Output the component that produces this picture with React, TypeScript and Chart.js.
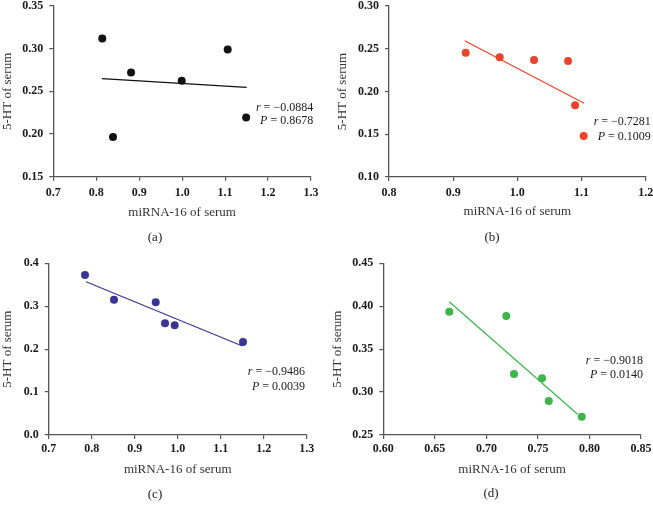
import React, { useEffect, useRef } from "react";
import { Chart, registerables } from "chart.js";
Chart.register(...registerables);

// ---------- data ----------
const xA = [0.814, 0.839, 0.881, 0.999, 1.106, 1.149];
const yA = [0.312, 0.1965, 0.272, 0.2625, 0.299, 0.2195];
const fitXA = [0.813, 1.15];
const fitYA = [0.2648, 0.2547];

const xB = [0.9195, 0.9725, 1.026, 1.079, 1.09, 1.1034];
const yB = [0.2454, 0.24, 0.2368, 0.2357, 0.1839, 0.148];
const fitXB = [0.918, 1.104];
const fitYB = [0.2594, 0.1862];

const xC = [0.7844, 0.8519, 0.9488, 0.9705, 0.993, 1.1519];
const yC = [0.3727, 0.3152, 0.3091, 0.2602, 0.2556, 0.2167];
const fitXC = [0.7868, 1.1503];
const fitYC = [0.3571, 0.2073];

const xD = [0.664, 0.7193, 0.7268, 0.754, 0.7605, 0.7925];
const yD = [0.3936, 0.3886, 0.321, 0.316, 0.2896, 0.2713];
const fitXD = [0.664, 0.7885];
const fitYD = [0.4053, 0.2741];

const statsA = ["r = \u22120.0884", "P = 0.8678"];
const statsB = ["r = \u22120.7281", "P = 0.1009"];
const statsC = ["r = \u22120.9486", "P = 0.0039"];
const statsD = ["r = \u22120.9018", "P = 0.0140"];

const captions = ["(a)", "(b)", "(c)", "(d)"];
const xTitle = "miRNA-16 of serum";
const yTitle = "5-HT of serum";

const FONT = "'Liberation Serif', 'Times New Roman', serif";

type PanelDef = {
  xs: number[]; ys: number[]; fx: number[]; fy: number[]; stats: string[];
  color: string; caption: string;
  xMin: number; xMax: number; xStep: number; xDec: number;
  yMin: number; yMax: number; yStep: number; yDec: number;
  annX: number; annY: number[];
  cl: number; ct: number; cw: number; ch: number;
  L: number; R: number; T: number; B: number;
  tickY: number; titleY: number; capX: number; capY: number; yTitleX: number;
};

const panels: PanelDef[] = [
  {
    xs: xA, ys: yA, fx: fitXA, fy: fitYA, stats: statsA, color: "#111111", caption: captions[0],
    xMin: 0.7, xMax: 1.3, xStep: 0.1, xDec: 1, yMin: 0.15, yMax: 0.35, yStep: 0.05, yDec: 2,
    annX: 1.305, annY: [0.2305, 0.2153],
    cl: 0, ct: 0, cw: 326, ch: 255, L: 53.3, R: 311, T: 6, B: 176.7,
    tickY: 193, titleY: 213, capX: 155, capY: 238, yTitleX: 7.8,
  },
  {
    xs: xB, ys: yB, fx: fitXB, fy: fitYB, stats: statsB, color: "#e8442b", caption: captions[1],
    xMin: 0.8, xMax: 1.2, xStep: 0.1, xDec: 1, yMin: 0.1, yMax: 0.3, yStep: 0.05, yDec: 2,
    annX: 1.208, annY: [0.1643, 0.1468],
    cl: 326, ct: 0, cw: 327, ch: 255, L: 389, R: 645.7, T: 6, B: 177,
    tickY: 193, titleY: 212, capX: 492, capY: 238, yTitleX: 343,
  },
  {
    xs: xC, ys: yC, fx: fitXC, fy: fitYC, stats: statsC, color: "#3a3594", caption: captions[2],
    xMin: 0.7, xMax: 1.3, xStep: 0.1, xDec: 1, yMin: 0, yMax: 0.4, yStep: 0.1, yDec: 1,
    annX: 1.296, annY: [0.1468, 0.1119],
    cl: 0, ct: 255, cw: 326, ch: 259, L: 48.7, R: 306.7, T: 263.3, B: 435,
    tickY: 449, titleY: 470, capX: 155, capY: 495, yTitleX: 8,
  },
  {
    xs: xD, ys: yD, fx: fitXD, fy: fitYD, stats: statsD, color: "#3db54a", caption: captions[3],
    xMin: 0.6, xMax: 0.85, xStep: 0.05, xDec: 2, yMin: 0.25, yMax: 0.45, yStep: 0.05, yDec: 2,
    annX: 0.852, annY: [0.3362, 0.3199],
    cl: 326, ct: 255, cw: 327, ch: 259, L: 383.3, R: 641, T: 263.3, B: 435,
    tickY: 449, titleY: 470, capX: 491, capY: 494, yTitleX: 338,
  },
];

const AXIS = "#555555";
const TICK_LEN = 4;
const TICK_FONT = 12;
const TITLE_FONT = 13;

function Panel({ p }: { p: PanelDef }) {
  const ref = useRef<HTMLCanvasElement>(null);
  useEffect(() => {
    const titleHalf = (TITLE_FONT * 1.2) / 2;
    const padLeft = Math.max(0, p.yTitleX - titleHalf - p.cl);
    const yAxisWidth = p.L - p.cl - padLeft;
    const padRight = p.cl + p.cw - p.R;
    const padTop = p.T - p.ct;
    const xAxisBottom = p.titleY + titleHalf;
    const xAxisHeight = xAxisBottom - p.B;
    const padBottom = p.ct + p.ch - xAxisBottom;
    const xTickPad = p.tickY - p.B - TICK_LEN - (TICK_FONT * 1.2) / 2;

    const textPlugin = {
      id: "texts",
      afterDraw(chart: any) {
        const ctx = chart.ctx;
        const xs = chart.scales.x;
        const ys = chart.scales.y;
        ctx.save();
        ctx.fillStyle = "#1a1a1a";
        ctx.textBaseline = "middle";
        p.stats.forEach((s: string, i: number) => {
          const head = s.charAt(0);
          const rest = s.slice(1);
          ctx.font = `italic 12px ${FONT}`;
          const wh = ctx.measureText(head).width;
          ctx.font = `12px ${FONT}`;
          const wr = ctx.measureText(rest).width;
          const px = xs.getPixelForValue(p.annX);
          const py = ys.getPixelForValue(p.annY[i]);
          const start = px - wh - wr;
          ctx.textAlign = "left";
          ctx.font = `italic 12px ${FONT}`;
          ctx.fillText(head, start, py);
          ctx.font = `12px ${FONT}`;
          ctx.fillText(rest, start + wh, py);
        });
        ctx.font = `13px ${FONT}`;
        ctx.textAlign = "center";
        ctx.fillStyle = "#222";
        ctx.fillText(p.caption, p.capX - p.cl, p.capY - p.ct);
        ctx.restore();
      },
    };

    const chart = new Chart(ref.current as HTMLCanvasElement, {
      type: "scatter",
      data: {
        datasets: [
          {
            data: p.xs.map((x, i) => ({ x, y: p.ys[i] })),
            backgroundColor: p.color,
            borderColor: p.color,
            pointRadius: 4,
            pointBorderWidth: 0,
            showLine: false,
          },
          {
            data: p.fx.map((x, i) => ({ x, y: p.fy[i] })),
            borderColor: p.color,
            borderWidth: 1.2,
            pointRadius: 0,
            showLine: true,
          },
        ],
      },
      options: {
        animation: false,
        responsive: false,
        layout: { padding: { left: padLeft, right: padRight, top: padTop, bottom: padBottom } },
        plugins: { legend: { display: false }, tooltip: { enabled: false } },
        scales: {
          x: {
            type: "linear",
            min: p.xMin,
            max: p.xMax,
            border: { color: AXIS, width: 1.3 },
            grid: { drawOnChartArea: false, drawTicks: true, tickLength: TICK_LEN, color: AXIS, lineWidth: 1.2 },
            ticks: {
              stepSize: p.xStep,
              autoSkip: false,
              maxRotation: 0,
              padding: xTickPad,
              color: "#1a1a1a",
              font: { family: FONT, size: TICK_FONT, weight: "bold" },
              callback: (v: any) => Number(v).toFixed(p.xDec),
            },
            title: {
              display: true,
              text: xTitle,
              color: "#333",
              padding: 0,
              font: { family: FONT, size: TITLE_FONT },
            },
            afterFit: (s: any) => {
              s.height = xAxisHeight;
              s.paddingLeft = 0;
              s.paddingRight = 0;
            },
          },
          y: {
            type: "linear",
            min: p.yMin,
            max: p.yMax,
            border: { color: AXIS, width: 1.3 },
            grid: { drawOnChartArea: false, drawTicks: true, tickLength: TICK_LEN, color: AXIS, lineWidth: 1.2 },
            ticks: {
              stepSize: p.yStep,
              autoSkip: false,
              padding: 6,
              color: "#1a1a1a",
              font: { family: FONT, size: TICK_FONT, weight: "bold" },
              callback: (v: any) => Number(v).toFixed(p.yDec),
            },
            title: {
              display: true,
              text: yTitle,
              color: "#333",
              padding: 0,
              font: { family: FONT, size: TITLE_FONT },
            },
            afterFit: (s: any) => {
              s.width = yAxisWidth;
              s.paddingTop = 0;
              s.paddingBottom = 0;
            },
          },
        },
      },
      plugins: [textPlugin],
    } as any);
    return () => chart.destroy();
  }, [p]);
  return (
    <canvas
      ref={ref}
      width={p.cw}
      height={p.ch}
      style={{ position: "absolute", left: p.cl, top: p.ct, width: p.cw, height: p.ch }}
    />
  );
}

export default function App() {
  return (
    <div style={{ position: "absolute", left: 0, top: 0, width: 653, height: 514, background: "#fff" }}>
      {panels.map((p, i) => (
        <Panel key={i} p={p} />
      ))}
    </div>
  );
}
